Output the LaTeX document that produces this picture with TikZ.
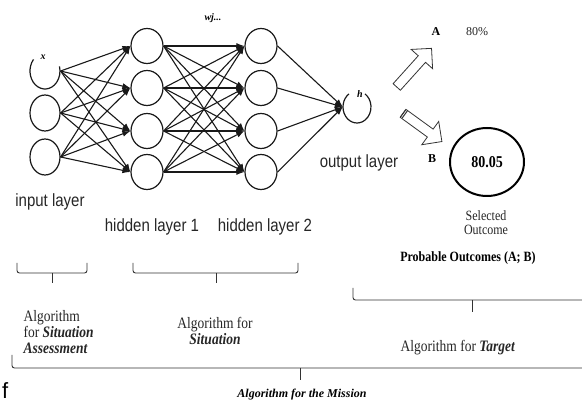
\documentclass[tikz,border=0pt]{standalone}
\usepackage{fontspec}
\setmainfont{Liberation Serif}
\newfontfamily\lsans{Liberation Sans}
\usetikzlibrary{shapes.geometric,shapes.arrows,arrows.meta,calc}
\newcommand\talltext[1]{\scalebox{1}[1.18]{#1}}
\begin{document}
\begin{tikzpicture}[x=1pt,y=-1pt,
  neuron/.style={draw, ellipse, line width=1.2pt, minimum width=32pt, minimum height=35pt, inner sep=0pt, black!90},
  inneuron/.style={ellipse, line width=1.2pt, minimum width=30pt, minimum height=36pt, inner sep=0pt, black!90},
  conn/.style={line width=1.1pt, black!90, -{Latex[length=8pt,width=6pt]}},
  layerlbl/.style={font=\lsans\fontsize{15}{17}\selectfont, text=black!85},
  serif/.style={font=\fontsize{13.5}{16}\selectfont, text=black!85},
  small/.style={font=\fontsize{12}{14}\selectfont, text=black!85},
  brace/.style={line width=0.9pt, rounded corners=2.5pt, black!80},
  blockarrow/.style={draw, single arrow, line width=0.8pt, inner sep=4.5pt, single arrow head extend=9.5pt, single arrow head indent=0pt, black!80}
]
\useasboundingbox (0,0) rectangle (582,403);

% input layer
\node[inneuron] (in1) at (45,71) {};
\node[inneuron,draw] (in2) at (45,113) {};
\node[inneuron,draw] (in3) at (45,157) {};
\draw[line width=1.2pt, black!90] ($(in1.center)+(220:15 and 18)$) arc[start angle=220, end angle=-15, x radius=15, y radius=18];

% hidden layers
\foreach \j/\y in {1/46,2/88,3/131,4/172}{
  \node[neuron] (ha\j) at (147,\y) {};
  \node[neuron] (hb\j) at (261,\y) {};
}

% output
\node[ellipse, minimum width=28pt, minimum height=32pt, inner sep=0pt] (out) at (357,107) {};
\draw[line width=1.2pt, black!90] ($(out.center)+(235:14 and 16)$) arc[start angle=235, end angle=-55, x radius=14, y radius=16];

% connections
\foreach \i in {1,2,3}{
  \foreach \j in {1,2,3,4}{
    \draw[conn] (in\i.east) -- (ha\j.west);
  }
}
\foreach \i in {1,2,3,4}{
  \foreach \j in {1,2,3,4}{
    \draw[conn] (ha\i.east) -- (hb\j.west);
  }
}
\foreach \i in {1,2,3,4}{
  \draw[conn] (hb\i.east) -- (out.west);
}

% small labels
\node[font=\bfseries\itshape\fontsize{10}{12}\selectfont] (wj) at (213,18) {wj...};
\node[font=\bfseries\itshape\fontsize{10}{12}\selectfont] (xl) at (43,57) {x};
\node[font=\bfseries\itshape\fontsize{10}{12}\selectfont] (hl) at (360,94) {h};

% layer labels
\node[layerlbl] (lin) at (50,202) {\talltext{input layer}};
\node[layerlbl] (lh1) at (152,227) {\talltext{hidden layer 1}};
\node[layerlbl] (lh2) at (265,227) {\talltext{hidden layer 2}};
\node[layerlbl] (lout) at (359,163) {\talltext{output layer}};

% block arrows
\node[blockarrow, rotate=48, minimum height=52pt] (arrA) at (412.5,69.5) {};
\node[blockarrow, rotate=-36, minimum height=48pt] (arrB) at (420.5,126) {};
\begin{scope}[shift={(420.5,126)}, rotate=-36]
  \draw[line width=1pt, black!80] (-21.5,-4.5) -- (-21.5,4.5);
  \draw[line width=1pt, black!80] (-19.5,-4.5) -- (-19.5,4.5);
\end{scope}

% outcomes
\node[font=\bfseries\fontsize{12}{14}\selectfont] (labA) at (436,32) {A};
\node[small] (pctA) at (477,32) {80\%};
\node[font=\bfseries\fontsize{12}{14}\selectfont] (labB) at (432,159) {B};
\node[draw, ellipse, line width=2pt, minimum width=74pt, minimum height=68pt, inner sep=0pt, font=\bfseries\fontsize{14}{16}\selectfont] (sel) at (487,162) {\talltext{80.05}};
\node[small, align=center] (selt) at (486,223) {\talltext{Selected}\\\talltext{Outcome}};
\node[font=\bfseries\fontsize{12}{14}\selectfont] (prob) at (468,258) {\talltext{Probable Outcomes (A; B)}};

% braces
\draw[brace] (17,263) -- (17,273) -- (87,273) -- (87,263);
\draw[brace] (52,273) -- (52,283);
\draw[brace] (133,263) -- (133,273) -- (298,273) -- (298,263);
\draw[brace] (216,273) -- (216,283);
\draw[brace] (353,288) -- (353,300) -- (582,300);
\draw[brace] (472,300) -- (472,312);
\draw[brace] (12,355) -- (12,368) -- (582,368);
\draw[brace] (300,368) -- (300,380);

% algorithm texts
\node[serif, align=left, anchor=west] (alg1) at (20,332) {\talltext{Algorithm}\\\talltext{for \textbf{\textit{Situation}}}\\\talltext{\textbf{\textit{Assessment}}}};
\node[serif, align=center] (alg2) at (215,331) {\talltext{Algorithm for}\\\talltext{\textbf{\textit{Situation}}}};
\node[serif] (alg3) at (458,348) {\talltext{Algorithm for \textbf{\textit{Target}}}};
\node[font=\bfseries\itshape\fontsize{12}{14}\selectfont] (mission) at (302,395) {Algorithm for the Mission};
\node[font=\lsans\fontsize{22}{24}\selectfont, anchor=west, inner sep=0pt] (fchar) at (2,391) {f};
\end{tikzpicture}
\end{document}
